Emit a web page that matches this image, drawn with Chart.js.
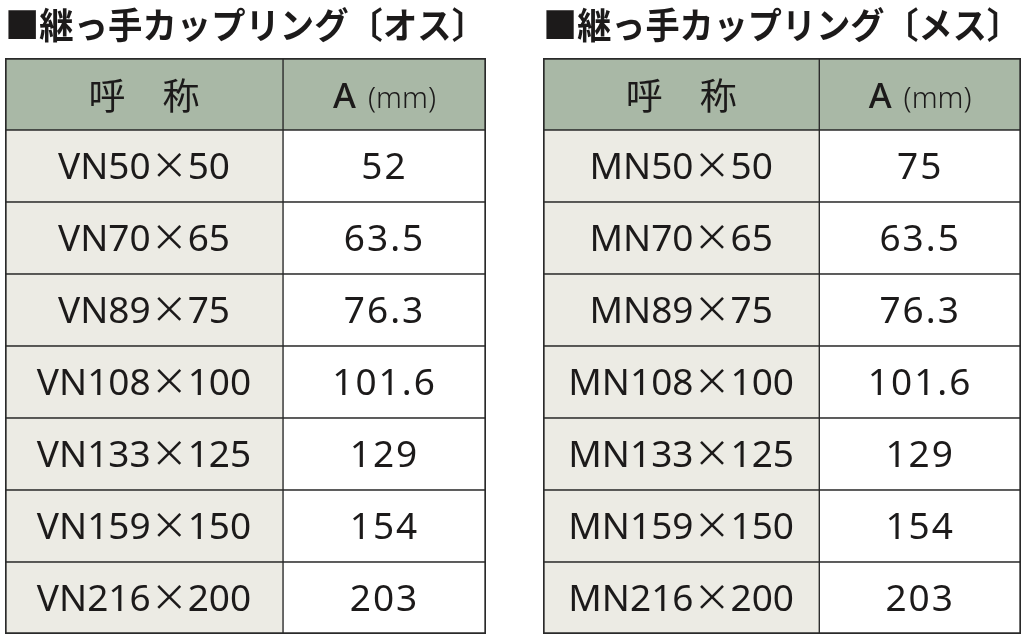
<!DOCTYPE html>
<html lang="ja">
<head>
<meta charset="utf-8">
<title>継っ手カップリング</title>
<script src="https://cdn.jsdelivr.net/npm/chart.js@4.4.1/dist/chart.umd.min.js"></script>
<style>
  html, body { margin: 0; padding: 0; background: #fff; }
  body { width: 1024px; height: 640px; position: relative; overflow: hidden; }
  .box { position: absolute; top: 0; height: 640px; }
  #leftBox { left: 0; width: 492px; }
  #rightBox { left: 538px; width: 486px; }
</style>
</head>
<body>
<div class="box" id="leftBox"><canvas id="leftChart"></canvas></div>
<div class="box" id="rightBox"><canvas id="rightChart"></canvas></div>
<script>
// table contents
const headerNames = ["呼　称", "A"];
const headerUnit = "(mm)";

const leftTitle = "■継っ手カップリング〔オス〕";
const leftNames = ["VN50×50", "VN70×65", "VN89×75", "VN108×100", "VN133×125", "VN159×150", "VN216×200"];
const leftSizes = [52, 63.5, 76.3, 101.6, 129, 154, 203];

const rightTitle = "■継っ手カップリング〔メス〕";
const rightNames = ["MN50×50", "MN70×65", "MN89×75", "MN108×100", "MN133×125", "MN159×150", "MN216×200"];
const rightSizes = [75, 63.5, 76.3, 101.6, 129, 154, 203];

// look of the table
const COL_SPLIT = 0.578; // share of the width taken by the name column
const HEAD_BG = "#a9b8a6";
const NAME_BG = "#ecebe4";
const VALUE_BG = "#ffffff";
const LINE = "#2a2a2a";
const INK = "#1c1a1a";
const LATIN = '"Noto Sans", sans-serif';
const CJK = '"Noto Sans CJK JP", sans-serif';
const TEXT_SIZE = 37;

//draws a list of text pieces (each with its own font) centred on cx
function drawPieces(ctx, pieces, cx, baseY) {
  let total = 0;
  pieces.forEach((p) => {
    ctx.font = p.font;
    ctx.letterSpacing = p.spacing || "0px";
    p.w = ctx.measureText(p.text).width + (p.gap || 0);
    total += p.w;
  });
  let x = cx - total / 2;
  pieces.forEach((p) => {
    ctx.font = p.font;
    ctx.letterSpacing = p.spacing || "0px";
    ctx.fillText(p.text, x + (p.gap || 0), baseY);
    x += p.w;
  });
}

//splits a name at the × so the sign can use the wide japanese glyph
function namePieces(name) {
  const parts = name.split("×");
  return [
    { text: parts[0], font: `400 ${TEXT_SIZE}px ${LATIN}` },
    { text: "×", font: `400 ${TEXT_SIZE}px ${CJK}` },
    { text: parts[1], font: `400 ${TEXT_SIZE}px ${LATIN}` },
  ];
}

//plugin that writes the text of every cell in the middle of its bar
const cellText = {
  id: "cellText",
  afterDatasetsDraw(chart) {
    const ctx = chart.ctx;
    ctx.save();
    ctx.fillStyle = INK;
    ctx.textAlign = "left";
    ctx.textBaseline = "alphabetic";
    chart.data.datasets.forEach((ds, col) => {
      chart.getDatasetMeta(col).data.forEach((bar, row) => {
        const c = bar.getCenterPoint();
        const text = ds.cells[row];
        let pieces;
        let drop;
        if (row === 0 && col === 0) {
          pieces = [{ text: text, font: `400 ${TEXT_SIZE}px ${CJK}` }];
          drop = 16;
        } else if (row === 0) {
          pieces = [
            { text: text, font: `500 35px ${LATIN}` },
            { text: headerUnit, font: `300 29px ${LATIN}`, gap: 12 },
          ];
          drop = 14;
        } else if (col === 0) {
          pieces = namePieces(text);
          drop = TEXT_SIZE * 0.357;
        } else {
          pieces = [{ text: String(text), font: `400 ${TEXT_SIZE}px ${LATIN}`, spacing: "2px" }];
          drop = TEXT_SIZE * 0.357;
        }
        drawPieces(ctx, pieces, c.x, c.y + drop);
      });
    });
    ctx.restore();
  },
};

//builds one table as a floating horizontal bar chart
function makeTable(canvasId, title, names, sizes, pad) {
  const rows = ["header"].concat(names);
  const ctx = document.getElementById(canvasId).getContext("2d");
  return new Chart(ctx, {
    type: "bar",
    data: {
      labels: rows,
      datasets: [
        {
          label: "name",
          data: rows.map(() => [0, COL_SPLIT]),
          cells: [headerNames[0]].concat(names),
          backgroundColor: (c) => (c.dataIndex === 0 ? HEAD_BG : NAME_BG),
        },
        {
          label: "A",
          data: rows.map(() => [COL_SPLIT, 1]),
          cells: [headerNames[1]].concat(sizes),
          backgroundColor: (c) => (c.dataIndex === 0 ? HEAD_BG : VALUE_BG),
        },
      ],
    },
    options: {
      indexAxis: "y",
      responsive: true,
      maintainAspectRatio: false,
      animation: false,
      events: [],
      layout: { padding: pad },
      datasets: {
        bar: {
          grouped: false,
          categoryPercentage: 1,
          barPercentage: 1,
          borderColor: LINE,
          borderSkipped: false,
          borderWidth: (c) => {
            const last = c.chart.data.labels.length - 1;
            return {
              top: c.dataIndex === 0 ? 2 : 1,
              bottom: c.dataIndex === last ? 2 : 1,
              left: c.datasetIndex === 0 ? 2 : 1,
              right: c.datasetIndex === 1 ? 2 : 1,
            };
          },
        },
      },
      scales: {
        x: { type: "linear", min: 0, max: 1, display: false },
        y: { type: "category", display: false },
      },
      plugins: {
        legend: { display: false },
        tooltip: { enabled: false },
        title: {
          display: true,
          text: title,
          align: "start",
          color: INK,
          font: { family: CJK, size: 36, weight: "bold", lineHeight: 1.2 },
          padding: { top: 4, bottom: 10.8 },
        },
      },
    },
    plugins: [cellText],
  });
}

makeTable("leftChart", leftTitle, leftNames, leftSizes, { left: 5, right: 6, top: 0, bottom: 6 });
makeTable("rightChart", rightTitle, rightNames, rightSizes, { left: 5, right: 3, top: 0, bottom: 6 });
</script>
</body>
</html>
